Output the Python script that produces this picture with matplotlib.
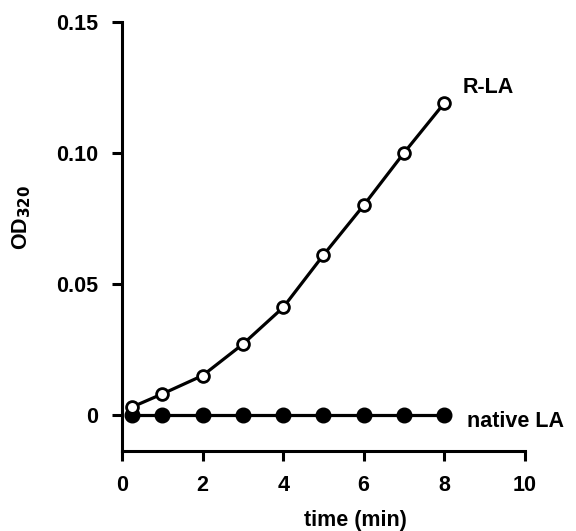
import matplotlib
matplotlib.use("Agg")
import matplotlib.pyplot as plt

plt.rcParams['font.family'] = ['Liberation Sans', 'DejaVu Sans']
plt.rcParams['font.weight'] = 'bold'
plt.rcParams['mathtext.default'] = 'bf'

# time points (min) and OD320 readings
time_min = [0.25, 1, 2, 3, 4, 5, 6, 7, 8]
od_rla = [0.003, 0.008, 0.015, 0.027, 0.041, 0.061, 0.080, 0.100, 0.119]
od_native = [0, 0, 0, 0, 0, 0, 0, 0, 0]

xticks = [0, 2, 4, 6, 8, 10]
yticks = [0, 0.05, 0.10, 0.15]
ytick_labels = ["0", "0.05", "0.10", "0.15"]

fig = plt.figure(figsize=(5.76, 5.31), dpi=100)
ax = fig.add_axes([0.212, 0.1507, 0.699, 0.8079])

ax.plot(time_min, od_native, color='black', lw=2.3, marker='o', ms=10.5,
        mfc='black', mec='black', zorder=3)
ax.plot(time_min, od_rla, color='black', lw=2.3, marker='o', ms=8.5,
        mfc='white', mec='black', mew=2, zorder=4)

fs = 15.5
ax.text(8.46, 0.125, "R-LA", fontsize=fs, fontweight='bold', va='center', ha='left')
ax.text(8.56, -0.0027, "native LA", fontsize=fs, fontweight='bold', va='center', ha='left')

ax.set_xlim(0, 10)
ax.set_ylim(-0.0138, 0.15)
ax.set_xticks(xticks)
ax.set_yticks(yticks)
ax.set_yticklabels(ytick_labels)
for s in ['top', 'right']:
    ax.spines[s].set_visible(False)
for s in ['left', 'bottom']:
    ax.spines[s].set_linewidth(2.2)
ax.tick_params(direction='out', length=7, width=2.2, labelsize=fs, pad=10)
for lab in ax.get_xticklabels() + ax.get_yticklabels():
    lab.set_fontweight('bold')

ax.set_xlabel("time (min)", fontsize=fs, fontweight='bold')
ax.set_ylabel("OD$_{320}$", fontsize=fs, fontweight='bold')
ax.xaxis.set_label_coords(0.58, -0.138)
ax.yaxis.set_label_coords(-0.221, 0.545)

fig.savefig("out.png", dpi=100)
